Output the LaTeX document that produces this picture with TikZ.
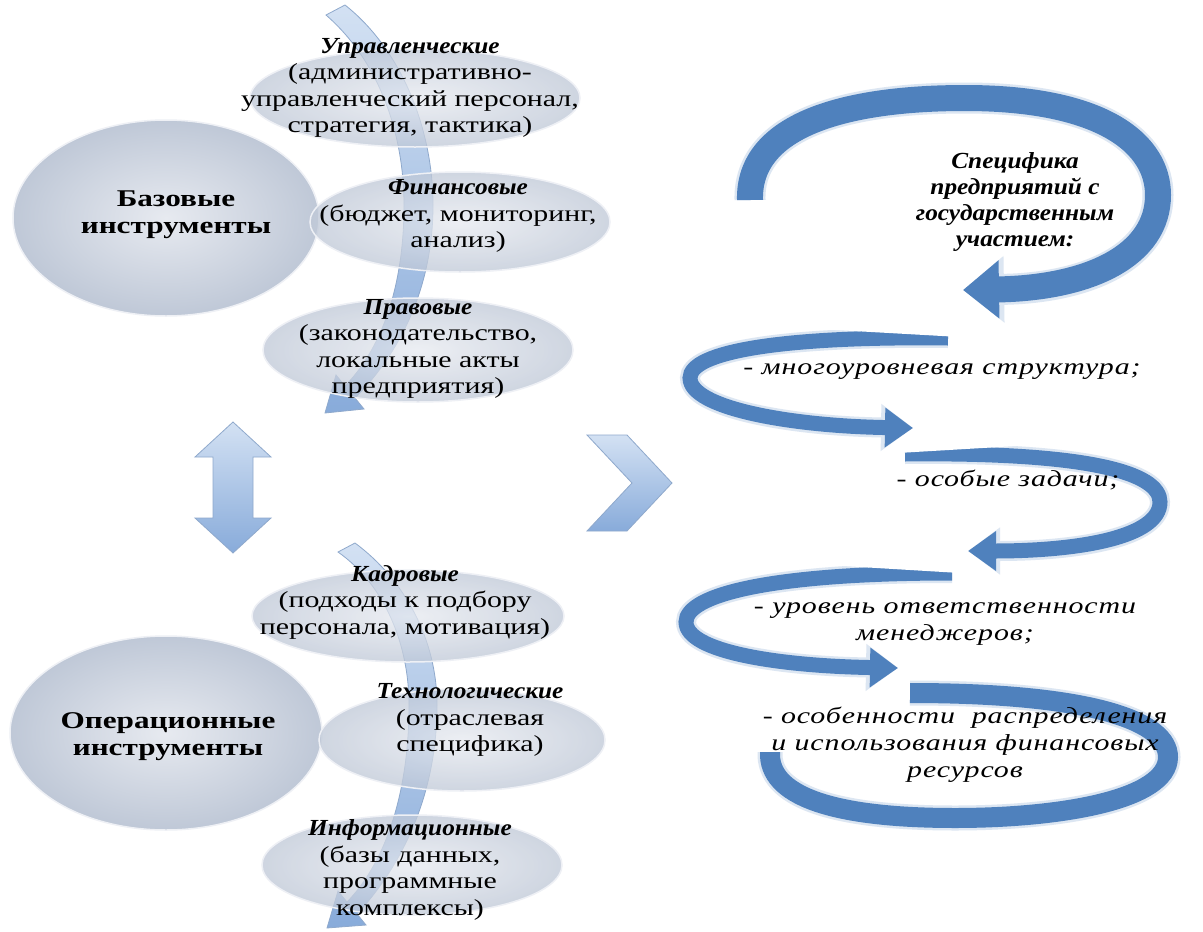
\documentclass[tikz,border=0pt]{standalone}
\usepackage{fontspec}
\setmainfont{Liberation Serif}[FakeStretch=1.3]
\newfontfamily\rfont{Liberation Serif}[FakeStretch=1.3,LetterSpace=4]
\newfontfamily\hfont{Liberation Serif}[FakeStretch=1.1]
\usetikzlibrary{arrows.meta,shapes.geometric}
\definecolor{sblue}{HTML}{4F81BD}
\definecolor{sglow}{HTML}{DCE6F2}
\definecolor{ellin}{HTML}{E7EAF0}
\definecolor{ellout}{HTML}{BFC8D7}
\definecolor{ellrim}{HTML}{EEF0F5}
\definecolor{lbA}{HTML}{D3E1F3}
\definecolor{lbB}{HTML}{88ABDA}
\definecolor{lbedge}{HTML}{8FA9CC}
\newcommand{\ttl}[1]{{\hfont\bfseries\itshape #1}}
\tikzset{
 ell/.style={ellipse, inner sep=0pt, inner color=ellin, outer color=ellout, draw=ellrim, line width=1.5pt},
 lab/.style={align=center, font=\fontsize{23}{26.5}\selectfont, inner sep=0pt},
 labb/.style={align=center, font=\bfseries\fontsize{24}{27}\selectfont, inner sep=0pt},
 rlab/.style={align=center, font=\rfont\itshape\fontsize{23}{27}\selectfont, inner sep=0pt},
 hlab/.style={align=center, font=\hfont\bfseries\itshape\fontsize{23}{26}\selectfont, inner sep=0pt},
 larrow/.style={top color=lbA, bottom color=lbB, draw=lbedge, line width=0.8pt},
 glowline/.style={draw=sglow, line cap=butt},
 blueline/.style={draw=sblue, line cap=butt},
 taper/.style={fill=white, draw=none},
}
\begin{document}
\begin{tikzpicture}[x=1pt,y=-1pt]
\useasboundingbox (0,0) rectangle (1203,932);
\fill[white] (0,0) rectangle (1203,932);

% big circles
\node[ell, minimum width=306pt, minimum height=196pt] (c1) at (166,218) {};
\node[ell, minimum width=312pt, minimum height=194pt] (c2) at (166,733) {};

% light curved arrows
\path[larrow] (345,5) .. controls (402,50) and (433,130) .. (433,205)
  .. controls (433,290) and (398,355) .. (355,398) -- (364,409) -- (325,413)
  -- (336,375) -- (345,386) .. controls (380,350) and (404,290) .. (404,205)
  .. controls (404,135) and (380,62) .. (326,15) -- cycle;
\path[larrow] (355,543) .. controls (405,580) and (437,640) .. (437,705)
  .. controls (437,800) and (398,870) .. (357,914) -- (366,925) -- (327,928)
  -- (338,891) -- (347,902) .. controls (382,866) and (409,800) .. (409,705)
  .. controls (409,645) and (385,585) .. (338,552) -- cycle;

% double arrow and chevron
\path[larrow] (233,422) -- (271,457) -- (253,457) -- (253,518) -- (271,518)
  -- (233,553) -- (195,518) -- (213,518) -- (213,457) -- (195,457) -- cycle;
\path[larrow] (587,435) -- (627,435) -- (672,483) -- (627,531) -- (587,531)
  -- (632,483) -- cycle;

% ellipses
\node[ell, fill opacity=0.75, minimum width=330pt, minimum height=98pt] (e1) at (415,98) {};
\node[ell, fill opacity=0.75, minimum width=300pt, minimum height=100pt] (e2) at (460,222) {};
\node[ell, fill opacity=0.75, minimum width=310pt, minimum height=104pt] (e3) at (418,350) {};
\node[ell, fill opacity=0.75, minimum width=312pt, minimum height=92pt] (e4) at (408,616) {};
\node[ell, fill opacity=0.75, minimum width=286pt, minimum height=102pt] (e5) at (462,740) {};
\node[ell, fill opacity=0.75, minimum width=300pt, minimum height=100pt] (e6) at (412,865) {};

% left texts
\node[labb] (t1) at (176,215) {Базовые\\инструменты};
\node[labb] (t5) at (168,737) {Операционные\\инструменты};
\node[lab] (t2) at (410,88) {\ttl{Управленческие}\\(административно-\\управленческий персонал,\\стратегия, тактика)};
\node[lab] (t3) at (458,216) {\ttl{Финансовые}\\(бюджет, мониторинг,\\анализ)};
\node[lab] (t4) at (418,349) {\ttl{Правовые}\\(законодательство,\\локальные акты\\предприятия)};
\node[lab] (t6) at (405,602) {\ttl{Кадровые}\\(подходы к подбору\\персонала, мотивация)};
\node[lab] (t7) at (470,720) {\ttl{Технологические}\\(отраслевая\\специфика)};
\node[lab] (t8) at (410,870) {\ttl{Информационные}\\(базы данных,\\программные\\комплексы)};

% right swirl
\draw[glowline, line width=31pt, -{Triangle[width=64pt,length=41pt]}]
  (750,200) .. controls (748,125) and (845,98) .. (965,98)
  .. controls (1105,98) and (1158,145) .. (1158,195)
  .. controls (1158,255) and (1090,288) .. (963,290);
\draw[blueline, line width=26pt, -{Triangle[width=56pt,length=36pt]}]
  (750,200) .. controls (748,125) and (845,98) .. (965,98)
  .. controls (1105,98) and (1158,145) .. (1158,195)
  .. controls (1158,255) and (1090,288) .. (963,290);

\draw[glowline, line width=20pt, -{Triangle[width=45pt,length=32pt]}]
  (948,338) .. controls (780,336) and (690,352) .. (690,378)
  .. controls (690,408) and (790,426) .. (913,428);
\draw[blueline, line width=15pt, -{Triangle[width=38pt,length=28pt]}]
  (948,338) .. controls (780,336) and (690,352) .. (690,378)
  .. controls (690,408) and (790,426) .. (913,428);
\path[taper] (960,325) -- (960,337) -- (800,328) -- cycle;

\draw[glowline, line width=20pt, -{Triangle[width=45pt,length=32pt]}]
  (905,454) .. controls (1085,452) and (1160,472) .. (1160,502)
  .. controls (1160,537) and (1080,551) .. (968,551);
\draw[blueline, line width=15pt, -{Triangle[width=38pt,length=28pt]}]
  (905,454) .. controls (1085,452) and (1160,472) .. (1160,502)
  .. controls (1160,537) and (1080,551) .. (968,551);
\path[taper] (898,442) -- (898,453) -- (1050,444) -- cycle;

\draw[glowline, line width=20pt, -{Triangle[width=45pt,length=32pt]}]
  (952,573) .. controls (770,573) and (686,595) .. (686,622)
  .. controls (686,652) and (780,666) .. (898,668);
\draw[blueline, line width=15pt, -{Triangle[width=38pt,length=28pt]}]
  (952,573) .. controls (770,573) and (686,595) .. (686,622)
  .. controls (686,652) and (780,666) .. (898,668);
\path[taper] (960,562) -- (960,573) -- (810,564) -- cycle;

\draw[glowline, line width=25pt]
  (910,693) .. controls (1095,693) and (1168,722) .. (1168,757)
  .. controls (1168,800) and (1060,818) .. (955,818)
  .. controls (830,818) and (768,795) .. (770,752);
\draw[blueline, line width=20pt]
  (910,693) .. controls (1095,693) and (1168,722) .. (1168,757)
  .. controls (1168,800) and (1060,818) .. (955,818)
  .. controls (830,818) and (768,795) .. (770,752);

% right texts
\node[hlab] (r0) at (1015,202) {Специфика\\предприятий с\\государственным\\участием:};
\node[rlab] (r1) at (942,372) {- многоуровневая структура;};
\node[rlab] (r2) at (1008,480) {- особые задачи;};
\node[rlab] (r3) at (945,624) {- уровень ответственности\\менеджеров;};
\node[rlab] (r4) at (965,745) {- особенности\ \ распределения\\и использования финансовых\\ресурсов};
\end{tikzpicture}
\end{document}
